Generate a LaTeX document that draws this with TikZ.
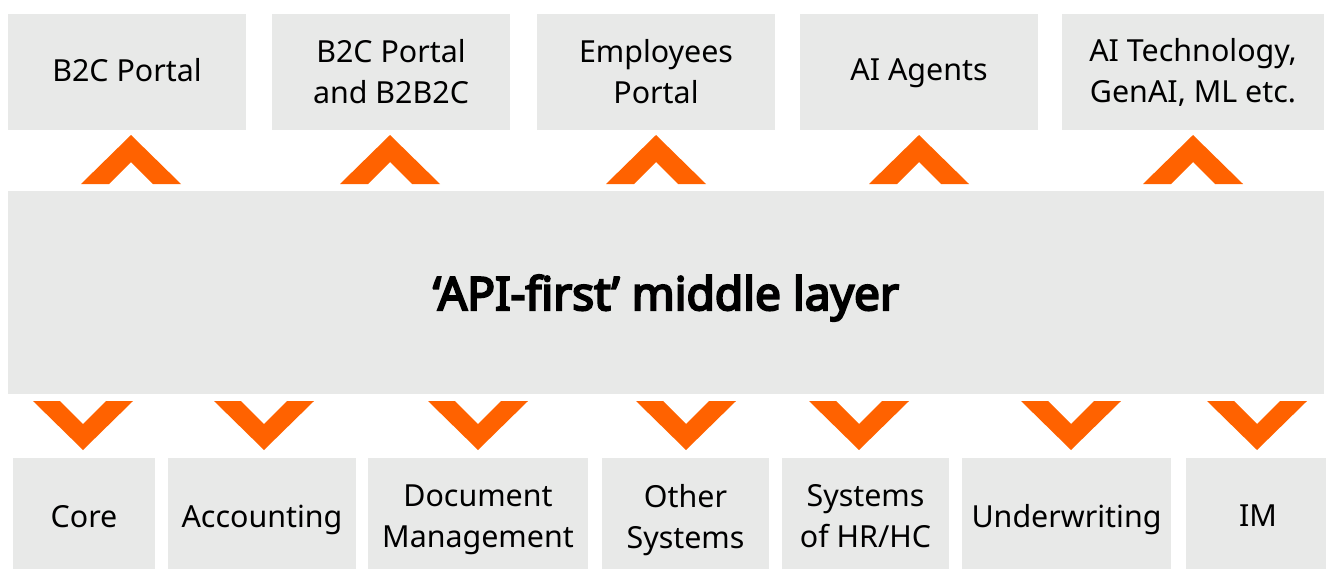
\documentclass[tikz,border=0pt]{standalone}
\usepackage{fontspec}
\setmainfont{Noto Sans}
\newfontfamily\titlefont{Noto Sans}[FakeBold=4.5]
\usetikzlibrary{positioning}
\definecolor{boxgray}{HTML}{E8E9E8}
\definecolor{chevorange}{HTML}{FF6200}

\tikzset{
	layerbox/.style 2 args={fill=boxgray, inner sep=0pt, align=center,
		minimum width=#1*0.75pt, minimum height=#2*0.75pt,
		font=\fontsize{22.8}{30.8}\selectfont},
	toponeline/.style={text depth=3pt},
	botrow/.style={text depth=0pt},
	chevron/.style={fill=chevorange},
}

\begin{document}
\begin{tikzpicture}[x=0.75pt,y=-0.75pt]
			\useasboundingbox (0,0) rectangle (1326,568);
			% consumers on top
			\node[layerbox={238}{116}, toponeline] (b2c) at (127,72) {B2C Portal};
			\node[layerbox={238}{116}] (b2btoc) at (391,72) {B2C Portal\\and B2B2C};
			\node[layerbox={238}{116}] (empl) at (656,72) {Employees\\Portal};
			\node[layerbox={238}{116}, toponeline] (agents) at (919,72) {AI Agents};
			\node[layerbox={262}{116}] (aitech) at (1193,72) {AI Technology,\\GenAI, ML etc.};
			% the layer itself
			\node[layerbox={1316}{203}, text depth=0pt, font=\titlefont\fontsize{34.5}{40}\selectfont] (mid) at (666,292.5) {‘API-first’ middle layer};
			% back-end systems
			\node[layerbox={142}{116}, botrow] (core) at (84,516) {Core};
			\node[layerbox={188}{116}, botrow] (acc) at (262,516) {Accounting};
			\node[layerbox={220}{116}, botrow] (docs) at (478,516) {Document\\Management};
			\node[layerbox={167}{116}, botrow] (other) at (685.5,516) {Other\\Systems};
			\node[layerbox={167}{116}, botrow] (hrhc) at (865.5,516) {Systems\\of HR/HC};
			\node[layerbox={209}{116}, botrow] (uw) at (1066.5,516) {Underwriting};
			\node[layerbox={144}{116}, botrow] (im) at (1258,516) {IM};
			% chevrons up
			\foreach \cx in {131,390,656,919,1193}
				\fill[chevron] (\cx-50,184) -- (\cx,135) -- (\cx+50,184) -- (\cx+22,184) -- (\cx,162) -- (\cx-22,184) -- cycle;
			% chevrons down
			\foreach \cx in {83,264,478,686,859,1071,1257}
				\fill[chevron] (\cx-50,401) -- (\cx,450) -- (\cx+50,401) -- (\cx+23,401) -- (\cx,424) -- (\cx-23,401) -- cycle;
		\end{tikzpicture}
\end{document}
